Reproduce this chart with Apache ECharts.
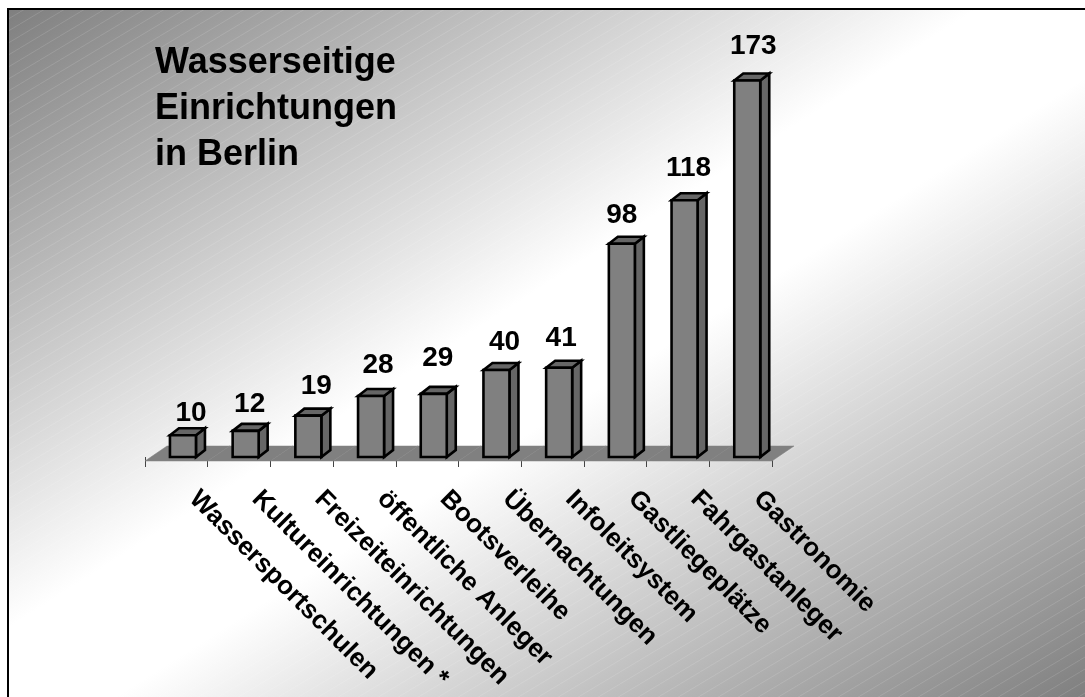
<!DOCTYPE html>
<html><head><meta charset="utf-8">
<style>html,body{margin:0;padding:0;background:#fff}#c{width:1085px;height:697px}</style>
<script src="https://cdn.jsdelivr.net/npm/echarts@6/dist/echarts.min.js"></script>
</head><body><div id="c"></div>
<script>
const categories = ['Wassersportschulen','Kultureinrichtungen *','Freizeiteinrichtungen','öffentliche Anleger','Bootsverleihe','Übernachtungen','Infoleitsystem','Gastliegeplätze','Fahrgastanleger','Gastronomie'];
const values = [10,12,19,28,29,40,41,98,118,173];
const titleLines = ['Wasserseitige','Einrichtungen','in Berlin'];

const FONT = '"Liberation Sans", Arial, sans-serif';
const W = 1085, H = 697, X0 = 8, Y0 = 9;
// hand placement of the value labels in the original slide
const labelShiftX = [0,-4,0,-1,-4,0,-6,-8,-4,-2];
const labelLift = [14,19,21,23,28,20,21,20,24,26];

const chart = echarts.init(document.getElementById('c'), null, {renderer:'canvas'});

const tile = document.createElement('canvas');
tile.width = 20; tile.height = 12;
const g = tile.getContext('2d');
g.strokeStyle = 'rgba(255,255,255,0.13)'; g.lineWidth = 1;
g.beginPath(); g.moveTo(-2,13.2); g.lineTo(22,-1.2); g.stroke();

const fw = W - X0, fh = H - Y0, cx = X0 + fw/2, cy = Y0 + fh/2;
const t = fw*fh/(fw*fw+fh*fh);
const bg = new echarts.graphic.LinearGradient(cx - t*fh, cy - t*fw, cx + t*fh, cy + t*fw, [
  {offset:0,color:'#7f7f7f'},{offset:0.45,color:'#ffffff'},{offset:0.55,color:'#ffffff'},{offset:1,color:'#7f7f7f'}], true);

const DX = 9, DY = 7, BW = 26, FLOOR_DX = 22, FLOOR_DY = 15, FRONT = 4;

chart.setOption({
  animation:false,
  backgroundColor:'#fff',
  graphic:[
    {type:'rect',z:-3,silent:true,shape:{x:X0,y:Y0,width:fw+10,height:fh+10},style:{fill:bg,stroke:'#000',lineWidth:2}},
    {type:'rect',z:-2,silent:true,shape:{x:X0+1,y:Y0+1,width:fw,height:fh},style:{fill:{image:tile,repeat:'repeat'}}},
    {type:'text',z:5,left:155,top:40,style:{text:titleLines.join('\n'),font:'bold 36px '+FONT,fill:'#000',lineHeight:46}}
  ],
  grid:{left:145,width:627,top:0,height:457},
  xAxis:{type:'category',data:categories,offset:FRONT,boundaryGap:true,
    axisLine:{show:false},
    axisTick:{show:true,length:10,alignWithLabel:false,lineStyle:{color:'#444',width:1}},
    axisLabel:{interval:0,rotate:-45,margin:17,padding:[0,0,0,24],hideOverlap:false,fontFamily:FONT,fontWeight:'bold',fontSize:26,color:'#000'}},
  yAxis:{type:'value',min:0,max:210,show:false,splitLine:{show:false}},
  series:[
    {type:'custom',z:1,silent:true,data:values,
     renderItem(p,api){
       const c = api.coord([api.value(0),0]), w = api.size([1,0])[0];
       const l=c[0]-w/2,r=c[0]+w/2,y=c[1]+FRONT;
       return {type:'polygon',shape:{points:[[l,y],[r,y],[r+FLOOR_DX,y-FLOOR_DY],[l+FLOOR_DX,y-FLOOR_DY]]},style:{fill:'#808080',stroke:'#808080',lineWidth:0.5}};
     }},
    {type:'custom',z:2,silent:true,data:values,encode:{x:0,y:1},
     renderItem(p,api){
       const v = api.value(1), i = p.dataIndex;
       const base = api.coord([api.value(0),0]), top = api.coord([api.value(0),v]);
       const l = base[0]-6.4, r = l+BW, yb = base[1], yt = top[1];
       const line = {stroke:'#000',lineWidth:2.6,lineJoin:'miter'};
       return {type:'group',children:[
         {type:'polygon',shape:{points:[[r,yt],[r+DX,yt-DY],[r+DX,yb-DY],[r,yb]]},style:{fill:'#666',...line}},
         {type:'polygon',shape:{points:[[l,yt],[l+DX,yt-DY],[r+DX,yt-DY],[r,yt]]},style:{fill:'#666',...line}},
         {type:'rect',shape:{x:l,y:yt,width:BW,height:yb-yt},style:{fill:'#808080',...line}},
         {type:'text',x:(l+r)/2+8+labelShiftX[i],y:yt-labelLift[i]+6,style:{text:String(v),font:'bold 28px '+FONT,fill:'#000',align:'center',verticalAlign:'bottom'}}
       ]};
     }}
  ]
});
</script></body></html>
